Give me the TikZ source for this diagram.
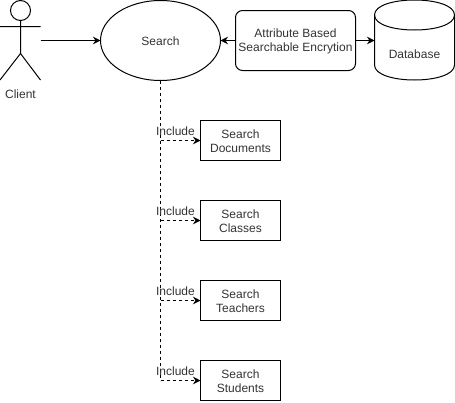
\documentclass[tikz,border=0pt]{standalone}
\usepackage{fontspec}
\setmainfont{Liberation Sans}
\usetikzlibrary{arrows.meta,shapes.geometric}
\tikzset{
  x=1pt,y=-1pt,
  every node/.style={font=\fontsize{12}{14}\selectfont,text=black!80,align=center,inner sep=0pt,outer sep=0pt,execute at begin node={\rule{0pt}{10.8pt}}},
  twoline/.style={execute at begin node={\rule{0pt}{25pt}}},
  shapeline/.style={draw=black,line width=1pt},
  searchbox/.style={shapeline,rectangle,twoline,minimum width=80pt,minimum height=40pt},
  flow/.style={draw=black,line width=1pt,-{Stealth[length=7.5pt,width=7.5pt,inset=2.5pt]}},
  incl/.style={flow,dash pattern=on 3pt off 3pt},
  trunk/.style={draw=black,line width=1pt,dash pattern=on 3pt off 3pt},
  incllabel/.style={anchor=center}
}
\begin{document}
\begin{tikzpicture}
\useasboundingbox (0,0) rectangle (455,402);
% actor
\coordinate (head) at (20.5,10.5);
\coordinate (neck) at (20.5,20.5);
\coordinate (hip) at (20.5,53.5);
\coordinate (armL) at (0,26.5);
\coordinate (armR) at (40.5,26.5);
\coordinate (legL) at (0,80);
\coordinate (legR) at (40.5,80);
\coordinate (actorout) at (40.5,40.5);
\draw[shapeline] (head) circle[radius=10];
\draw[shapeline] (neck) -- (hip) (armL) -- (armR) (hip) -- (legL) (hip) -- (legR);
\node (client) at (20.5,93.5) {Client};
% main nodes
\node[shapeline,ellipse,minimum width=120pt,minimum height=80pt] (search) at (160.5,40.5) {Search};
\node[shapeline,rectangle,twoline,rounded corners=7pt,minimum width=120pt,minimum height=60pt] (abse) at (295.5,40.5) {Attribute Based\\Searchable Encrytion};
\node[minimum width=80pt,minimum height=80pt] (db) at (414.5,40.5) {};
\draw[shapeline] (374.5,15) .. controls (374.5,-5) and (454.5,-5) .. (454.5,15)
  -- (454.5,65) .. controls (454.5,85) and (374.5,85) .. (374.5,65) -- cycle;
\draw[shapeline] (374.5,15) .. controls (374.5,35) and (454.5,35) .. (454.5,15);
\node at (414.5,53.5) {Database};
% include targets
\node[searchbox] (docs) at (240.5,140.5) {Search\\Documents};
\node[searchbox] (classes) at (240.5,220.5) {Search\\Classes};
\node[searchbox] (teachers) at (240.5,300.5) {Search\\Teachers};
\node[searchbox] (students) at (240.5,380.5) {Search\\Students};
% connectors
\draw[flow] (actorout) -- (search.west);
\draw[flow] (abse.west) -- (search.east);
\draw[flow] (abse.east) -- (db.west);
\draw[trunk] (search.south) -- (search.south |- students.west);
\foreach \t in {docs,classes,teachers,students}{
  \draw[incl] (search.south |- \t.west) -- (\t.west);
}
\node[incllabel] at (175.5,130) {Include};
\node[incllabel] at (175.5,210) {Include};
\node[incllabel] at (175.5,290) {Include};
\node[incllabel] at (175.5,370) {Include};
\end{tikzpicture}
\end{document}
